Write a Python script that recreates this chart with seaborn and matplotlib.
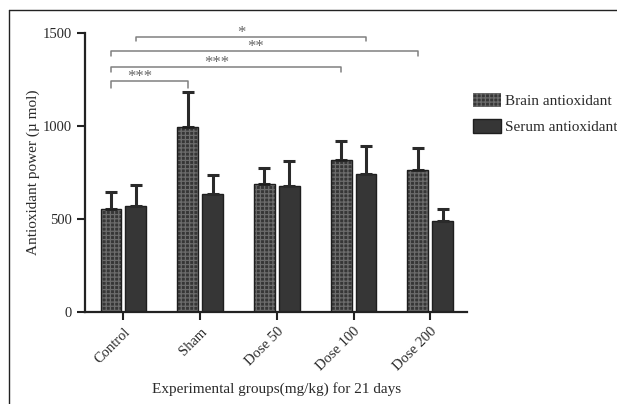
import numpy as np
import pandas as pd
import seaborn as sns
import matplotlib.pyplot as plt
from matplotlib.patches import Patch, Rectangle
from matplotlib.lines import Line2D

# ================= DATA =================
GROUPS = ["Control", "Sham", "Dose 50", "Dose 100", "Dose 200"]
SERIES = ["Brain antioxidant", "Serum antioxidant"]

brain_mean = [555, 993, 688, 818, 761]
brain_sd = [88, 192, 86, 100, 121]
serum_mean = [568, 633, 679, 744, 489]
serum_sd = [117, 102, 132, 146, 66]

# significance brackets: (series index, group a, series index, group b, label)
SIG_PAIRS = [
    (0, "Control", 0, "Sham", "***"),
    (0, "Control", 0, "Dose 100", "***"),
    (0, "Control", 0, "Dose 200", "**"),
    (1, "Control", 1, "Dose 100", "*"),
]
# =========================================

df = pd.DataFrame({
    "group": GROUPS * 2,
    "series": [SERIES[0]] * len(GROUPS) + [SERIES[1]] * len(GROUPS),
    "value": brain_mean + serum_mean,
})

sns.set_style("ticks")
plt.rcParams["font.family"] = ["Liberation Serif", "DejaVu Serif"]
plt.rcParams["hatch.linewidth"] = 0.9

BAR_DARK = "#363636"
HATCH_COL = "#6c6c6c"
EDGE = "#1e1e1e"
TXT = "#2a2a2a"

fig = plt.figure(figsize=(6.17, 4.04), dpi=100)
ax = fig.add_axes([0.138, 0.228, 0.619, 0.69])

sns.barplot(
    data=df, x="group", y="value", hue="series",
    order=GROUPS, hue_order=SERIES,
    palette=[BAR_DARK, BAR_DARK], width=0.65, gap=0.16,
    errorbar=None, legend=False, ax=ax,
)

# brain bars get the hatch texture, serum bars stay solid
for p in ax.containers[0]:
    p.set_edgecolor(HATCH_COL)
    p.set_hatch("++++")
    p.set_linewidth(0)
    ax.add_patch(Rectangle(p.get_xy(), p.get_width(), p.get_height(),
                           fill=False, ec=EDGE, lw=1.0, zorder=3))
for p in ax.containers[1]:
    p.set_edgecolor(EDGE)
    p.set_linewidth(1.0)

# upper-only error bars
centers = {}
for k, (cont, sd) in enumerate(zip(ax.containers, [brain_sd, serum_sd])):
    xs = np.array([p.get_x() + p.get_width() / 2 for p in cont])
    hs = np.array([p.get_height() for p in cont])
    ax.errorbar(xs, hs, yerr=[np.zeros_like(hs), sd], fmt="none",
                ecolor="#2a2a2a", elinewidth=2.2, capsize=4.5, capthick=2.2,
                zorder=1)
    for g, xv in zip(GROUPS, xs):
        centers[(k, g)] = xv

# significance brackets
levels = [1245, 1320, 1402, 1478]
drops = [40, 27, 27, 22]
for (sa, ga, sb, gb, lab), yv, dr in zip(SIG_PAIRS, levels, drops):
    x1, x2 = centers[(sa, ga)], centers[(sb, gb)]
    ax.plot([x1, x1, x2, x2], [yv - dr, yv, yv, yv - dr],
            color="#808080", lw=1.1, clip_on=False)
    ax.text((x1 + x2) / 2 - 0.12, yv - 22, lab, ha="center", va="bottom",
            fontsize=12, color="#666666")

ax.set_ylim(0, 1500)
ax.set_xlim(-0.5, 4.48)
ax.set_yticks([0, 500, 1000, 1500])
sns.despine(ax=ax)
for s in ["left", "bottom"]:
    ax.spines[s].set_linewidth(1.6)
    ax.spines[s].set_color("#222222")
ax.tick_params(axis="both", length=6, width=1.5, color="#222222",
               labelsize=10.5, labelcolor=TXT)
plt.setp(ax.get_xticklabels(), rotation=45, ha="right",
         rotation_mode="anchor")

ax.set_xlabel("Experimental groups(mg/kg) for 21 days", fontsize=11,
              color=TXT, labelpad=6)
ax.set_ylabel("Antioxidant power (µ mol)", fontsize=11, color=TXT,
              labelpad=2)

handles = [
    Patch(facecolor=BAR_DARK, edgecolor=HATCH_COL, hatch="++++", lw=0),
    Patch(facecolor=BAR_DARK, edgecolor=EDGE, lw=1.0),
]
fig.legend(handles, SERIES, loc="upper left",
           bbox_to_anchor=(0.745, 0.803), frameon=False, fontsize=11,
           handlelength=1.8, handleheight=1.0, handletextpad=0.25,
           labelspacing=0.7, labelcolor=TXT)

# image frame (top and left edges)
fig.add_artist(Line2D([9 / 617, 1.0], [1 - 10 / 404, 1 - 10 / 404],
                      transform=fig.transFigure, color="#222222", lw=1.0))
fig.add_artist(Line2D([9 / 617, 9 / 617], [0, 1 - 10 / 404],
                      transform=fig.transFigure, color="#222222", lw=1.0))

fig.savefig("out.png", dpi=100)
